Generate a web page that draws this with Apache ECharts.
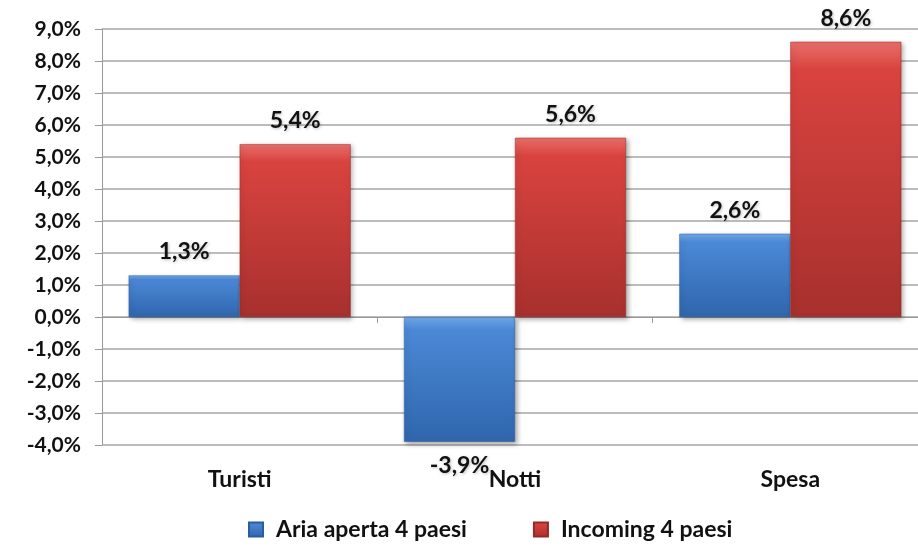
<!DOCTYPE html>
<html>
<head>
<meta charset="utf-8">
<script src="https://cdn.jsdelivr.net/npm/echarts@6/dist/echarts.min.js"></script>
<style>
html, body { margin: 0; padding: 0; background: #fff; }
#main { width: 918px; height: 548px; }
</style>
</head>
<body>
<div id="main"></div>
<script>
var categories = ['Turisti', 'Notti', 'Spesa'];
var ariaAperta = [1.3, -3.9, 2.6];
var incoming = [5.4, 5.6, 8.6];
var seriesNames = ['Aria aperta 4 paesi', 'Incoming 4 paesi'];

var FONT = 'Lato';

function pct(v) {
    return v.toFixed(1).replace('.', ',') + '%';
}

function grad(top, mid, bottom) {
    return new echarts.graphic.LinearGradient(0, 0, 0, 1, [
        { offset: 0, color: top },
        { offset: 0.1, color: mid },
        { offset: 1, color: bottom }
    ]);
}

var blue = grad('#72aaea', '#4b88d6', '#2f66ad');
var red = grad('#ea6f6a', '#d9433f', '#a7302d');

var labelStyle = {
    show: true,
    distance: 12,
    fontFamily: FONT,
    fontWeight: 'bold',
    fontSize: 23,
    color: '#111',
    textShadowColor: 'rgba(0,0,0,0.25)',
    textShadowBlur: 3,
    textShadowOffsetX: 1,
    textShadowOffsetY: 1,
    formatter: function (p) { return pct(p.value); }
};

function makeData(arr) {
    return arr.map(function (v) {
        return {
            value: v,
            label: { position: v < 0 ? 'bottom' : 'top' }
        };
    });
}

var dom = document.getElementById('main');
var myChart = echarts.init(dom);

var option = {
    animation: false,
    backgroundColor: '#fff',
    legend: {
        data: seriesNames,
        top: 513,
        left: 243,
        icon: 'rect',
        itemWidth: 14,
        itemHeight: 14,
        itemGap: 66,
        textStyle: {
            fontFamily: FONT, fontWeight: 'bold', fontSize: 23, color: '#111',
            padding: [0, 0, 0, 8]
        }
    },
    grid: {
        left: 102,
        top: 29,
        width: 826,
        height: 416,
        outerBoundsMode: 'none'
    },
    xAxis: [{
        type: 'category',
        data: categories,
        axisLine: { onZero: true, lineStyle: { color: '#999', width: 1 } },
        axisTick: { show: true, length: 6, lineStyle: { color: '#999' } },
        axisLabel: { show: false }
    }, {
        type: 'category',
        data: categories,
        position: 'bottom',
        axisLine: { show: false, onZero: false },
        axisTick: { show: false },
        axisLabel: {
            margin: 23,
            fontFamily: FONT,
            fontWeight: 'bold',
            fontSize: 23,
            color: '#111'
        }
    }],
    yAxis: {
        type: 'value',
        min: -4,
        max: 9,
        interval: 1,
        axisLine: { show: true, lineStyle: { color: '#999', width: 1 } },
        axisTick: { show: true, length: 7, lineStyle: { color: '#999' } },
        axisLabel: {
            margin: 21,
            fontFamily: FONT,
            fontWeight: 'bold',
            fontSize: 21,
            color: '#111',
            formatter: function (v) { return pct(v); }
        },
        splitLine: { show: true, lineStyle: { color: '#a6a6a6', width: 1.5 } }
    },
    series: [{
        name: seriesNames[0],
        type: 'bar',
        xAxisIndex: 0,
        barWidth: 111,
        barGap: '0%',
        itemStyle: {
            color: blue,
            borderColor: '#2a5d9e',
            borderWidth: 0.5,
            shadowColor: 'rgba(0,0,0,0.35)',
            shadowBlur: 5,
            shadowOffsetX: 2,
            shadowOffsetY: 2
        },
        label: labelStyle,
        data: makeData(ariaAperta)
    }, {
        name: seriesNames[1],
        type: 'bar',
        xAxisIndex: 0,
        barWidth: 111,
        barGap: '0%',
        itemStyle: {
            color: red,
            borderColor: '#962a28',
            borderWidth: 0.5,
            shadowColor: 'rgba(0,0,0,0.35)',
            shadowBlur: 5,
            shadowOffsetX: 2,
            shadowOffsetY: 2
        },
        label: labelStyle,
        data: makeData(incoming)
    }]
};

myChart.setOption(option);
</script>
</body>
</html>
